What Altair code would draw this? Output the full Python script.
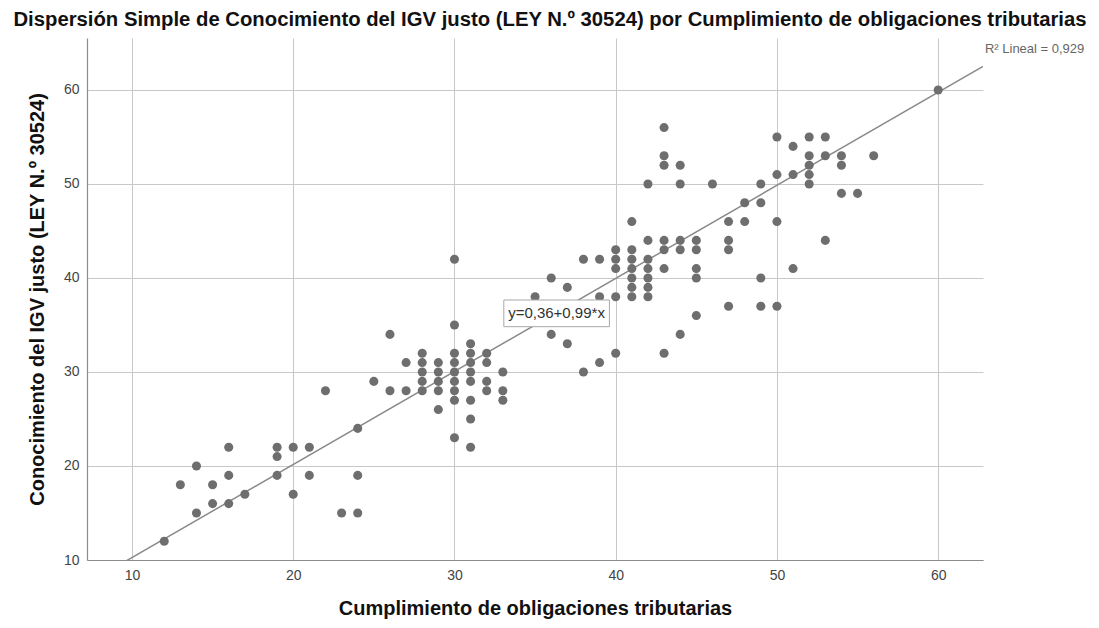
import altair as alt
import pandas as pd

# ---- data ----
cumplimiento = [
    12, 13, 14, 14, 15, 15, 16, 16, 16, 17,
    19, 19, 19, 20, 20, 21, 21, 22, 23, 24, 24, 24, 25,
    26, 26, 27, 27,
    28, 28, 28, 28, 28,
    29, 29, 29, 29, 29,
    30, 30, 30, 30, 30, 30, 30, 30, 30,
    31, 31, 31, 31, 31, 31, 31, 31,
    32, 32, 32, 32,
    33, 33, 33,
    35, 36, 36, 37, 37, 38, 38, 39, 39, 39,
    40, 40, 40, 40, 40,
    41, 41, 41, 41, 41, 41, 41,
    42, 42, 42, 42, 42, 42, 42,
    43, 43, 43, 43, 43, 43, 43,
    44, 44, 44, 44, 44,
    45, 45, 45, 45, 45,
    46, 47, 47, 47, 47, 48, 48,
    49, 49, 49, 49,
    50, 50, 50, 50,
    51, 51, 51,
    52, 52, 52, 52, 52,
    53, 53, 53,
    54, 54, 54, 55, 56, 60,
]
conocimiento = [
    12, 18, 20, 15, 18, 16, 22, 19, 16, 17,
    22, 21, 19, 22, 17, 22, 19, 28, 15, 24, 19, 15, 29,
    34, 28, 31, 28,
    32, 31, 30, 29, 28,
    31, 30, 29, 28, 26,
    42, 35, 32, 31, 30, 29, 28, 27, 23,
    33, 32, 31, 30, 29, 27, 25, 22,
    32, 31, 29, 28,
    30, 28, 27,
    38, 40, 34, 39, 33, 42, 30, 42, 38, 31,
    43, 42, 41, 38, 32,
    46, 43, 42, 41, 40, 39, 38,
    50, 44, 42, 41, 40, 39, 38,
    56, 53, 52, 44, 43, 41, 32,
    52, 50, 44, 43, 34,
    44, 43, 41, 40, 36,
    50, 46, 44, 43, 37, 48, 46,
    50, 48, 40, 37,
    55, 51, 46, 37,
    54, 51, 41,
    55, 53, 52, 51, 50,
    55, 53, 44,
    53, 52, 49, 49, 53, 60,
]

intercept = 0.36
slope = 0.99
eq_text = "y=0,36+0,99*x"
r2_text = "R² Lineal = 0,929"

tick_values = [10, 20, 30, 40, 50, 60]
x_domain = [7.21, 62.78]
y_domain = [10, 65.53]

# annotation anchors (data units)
eq_box = {"x": [33.06], "x2": [39.61], "y": [34.82], "y2": [37.66]}
eq_pos = {"x": [36.33], "y": [36.24]}
r2_pos = {"x": [62.9], "y": [64.36]}

title_text = ("Dispersión Simple de Conocimiento del IGV justo (LEY N.º 30524) "
              "por Cumplimiento de obligaciones tributarias")
x_title = "Cumplimiento de obligaciones tributarias"
y_title = "Conocimiento del IGV justo (LEY N.º 30524)"

FONT = "Liberation Sans"

points = pd.DataFrame({"x": cumplimiento, "y": conocimiento})
fit = pd.DataFrame({"x": x_domain})

xs = alt.Scale(domain=x_domain, nice=False, zero=False)
ys = alt.Scale(domain=y_domain, nice=False, zero=False)

axis_common = dict(
    values=tick_values, grid=True, gridColor="#c8c8c8", gridWidth=1,
    domainColor="#8c8c8c", domainWidth=1.2, ticks=False,
    labelFont=FONT, labelFontSize=14, labelColor="#444444", labelPadding=8,
    titleFont=FONT, titleFontSize=20, titleFontWeight="bold", titleColor="#111111",
    format="d",
)
x_enc = alt.X("x:Q", scale=xs, axis=alt.Axis(title=x_title, titlePadding=16, **axis_common))
y_enc = alt.Y("y:Q", scale=ys, axis=alt.Axis(title=y_title, titlePadding=16, **axis_common))

pts = alt.Chart(points).mark_circle(size=82, color="#6e6e6e", opacity=1).encode(x=x_enc, y=y_enc)

line = (
    alt.Chart(fit)
    .transform_calculate(y=f"{intercept} + {slope} * datum.x")
    .mark_line(clip=True, color="#8a8a8a", strokeWidth=1.5)
    .encode(x=x_enc, y=y_enc)
)

box = alt.Chart(pd.DataFrame(eq_box)).mark_rect(fill="white", stroke="#a8a8a8", strokeWidth=1).encode(
    x=x_enc, x2="x2:Q", y=y_enc, y2="y2:Q"
)
eq = alt.Chart(pd.DataFrame(eq_pos)).mark_text(
    text=eq_text, font=FONT, fontSize=15, color="#333333", align="center", baseline="middle"
).encode(x=x_enc, y=y_enc)

r2 = alt.Chart(pd.DataFrame(r2_pos)).mark_text(
    text=r2_text, font=FONT, fontSize=13, color="#666666", align="left", baseline="middle"
).encode(x=x_enc, y=y_enc)

chart = (
    alt.layer(line, pts, box, eq, r2)
    .properties(
        width=896,
        height=522,
        title=alt.TitleParams(
            text=title_text, font=FONT, fontSize=20.3, fontWeight="bold", color="#111111",
            anchor="middle", dx=15, offset=8,
        ),
        autosize=alt.AutoSizeParams(type="none"),
        padding={"left": 79, "top": 30, "right": 104, "bottom": 60},
        background="white",
    )
    .configure_view(stroke=None)
)

chart.save("out.html", embed_options={"renderer": "svg", "actions": False})
